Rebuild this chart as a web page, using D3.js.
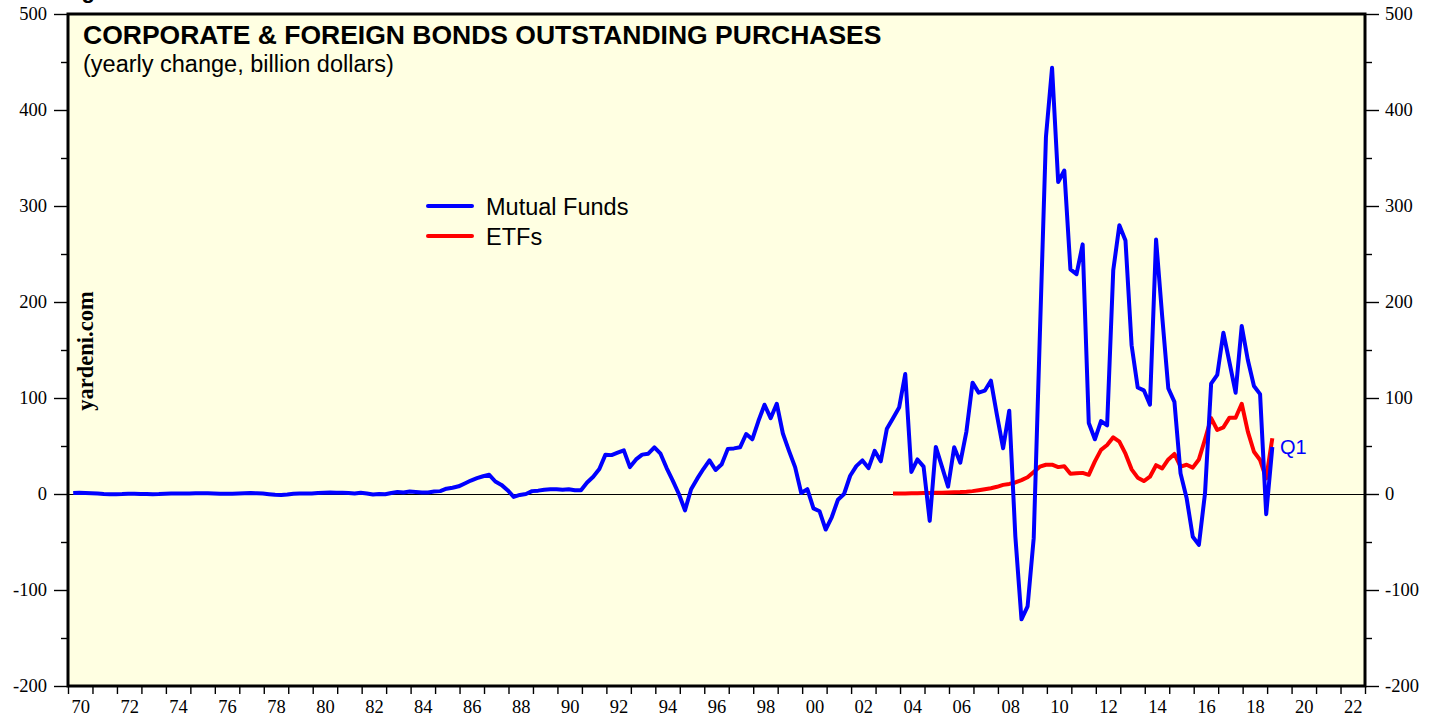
<!DOCTYPE html>
<html>
<head>
<meta charset="utf-8">
<script src="https://cdn.jsdelivr.net/npm/d3@7"></script>
<style>
  body { margin: 0; background: #fff; }
  svg { display: block; }
</style>
</head>
<body>
<div id="root"></div>
<script>
// quarterly, 1970Q1 .. 2019Q1
const mutualFunds = [
  1.0, 1.2, 1.0, 0.8,   0.5, 0.0, -0.3, -0.2,   -0.1, 0.2, 0.3, 0.1,   0.0, -0.2, -0.1, 0.2,
  0.4, 0.5, 0.5, 0.6,   0.8, 0.9, 0.7, 0.6,     0.3, 0.2, 0.3, 0.5,    0.8, 1.0, 0.8, 0.4,
  -0.2, -0.8, -1.0, -0.5, 0.3, 0.5, 0.5, 0.6,   1.0, 1.2, 1.5, 1.3,    1.4, 1.0, 0.5, 1.2,
  0.5, -0.5, 0.0, -0.3, 1.0, 2.0, 1.5, 2.5,     2.0, 1.5, 1.5, 2.5,    3, 5.5, 6.5, 8,
  11, 14, 16.5, 18.5,   20, 13, 9.5, 4,         -3, -1, 0, 3,          3.5, 4.5, 5, 5,
  4.5, 5, 4, 4,         12, 18, 26, 41,         40.5, 43, 45.5, 28,    36, 41, 42, 48.5,
  42, 27, 14, 0,        -17, 5, 16, 26,         35, 25, 31, 47,        47.5, 48.6, 62.5, 57,
  76, 93, 79, 94,       63, 45, 28, 1,          5, -15, -18, -37,      -24, -6, 0, 19,
  29, 35, 27, 45,       34, 68, 79, 90,         125, 23, 36, 28.5,     -28, 49, 28.5, 7.6,
  48.6, 32.6, 65, 116,  105.6, 107.6, 118, 82,  47.6, 86.8, -44.5, -130.5, -117, -46, 165, 372,
  444, 325, 337, 234,   229, 260, 74, 57,       76, 71.5, 233, 280,    264, 155, 111, 108,
  93, 265, 185, 110,    96, 21.5, -4.5, -44.5,  -53, 0.7, 115, 124,    168, 137, 105.5, 175,
  139.6, 112.5, 104, -21,
  49
];
const mutualFundsStart = [1970, 1];

// quarterly, 2003Q3 .. 2019Q1
const etfs = [
  0.5, 0.5,
  0.6, 0.7, 0.8, 1.0,   1.0, 1.2, 1.4, 1.6,   1.8, 2.0, 2.4, 3.0,   4.0, 5.0, 6.0, 7.5,
  9.5, 10.5, 12, 14.5,  17.5, 23, 28.5, 30.5, 30.5, 28, 29, 21,   21.5, 22, 20, 34,
  46, 51, 59, 54.5,     42, 25.7, 17, 13.5,   18, 30, 26.7, 36,     41.7, 28.5, 30.5, 27.5,
  36, 57, 79, 66.7,     69.4, 79.5, 79.5, 94, 65, 44, 35.4, 16.3,
  58
];
const etfsStart = [2003, 3];

const xTickLabels = ['70','72','74','76','78','80','82','84','86','88','90','92','94','96',
  '98','00','02','04','06','08','10','12','14','16','18','20','22'];
const yTicks = [-200, -100, 0, 100, 200, 300, 400, 500];
const yMinorTicks = [-150, -50, 50, 150, 250, 350, 450];

const width = 1439;
const height = 719;
const plot = { left: 68, right: 1365, top: 14, bottom: 686 };

const svg = d3.select('#root')
  .append('svg')
  .attr('width', width)
  .attr('height', height);

const x = d3.scaleLinear().domain([1970, 2023]).range([plot.left, plot.right]);
const y = d3.scaleLinear().domain([-200, 500]).range([plot.bottom, plot.top]);

function toSeries(values, start) {
  return values.map((v, i) => {
    const q = start[1] - 1 + i;
    const t = start[0] + Math.floor(q / 4) + ((q % 4) + 0.85) / 4;
    return { t: t, v: v };
  });
}

// cut-off figure caption at the very top
svg.append('text')
  .attr('x', 62)
  .attr('y', -2)
  .attr('font-family', 'Liberation Sans, Arial, sans-serif')
  .attr('font-weight', 'bold')
  .attr('font-size', 22)
  .text('Figure');

svg.append('rect')
  .attr('x', plot.left)
  .attr('y', plot.top)
  .attr('width', plot.right - plot.left)
  .attr('height', plot.bottom - plot.top)
  .attr('fill', '#ffffe2');

// left axis
svg.append('g')
  .attr('transform', `translate(${plot.left},0)`)
  .call(d3.axisLeft(y).tickValues(yTicks).tickSize(14).tickPadding(7).tickFormat(d => String(d)));
svg.append('g')
  .attr('transform', `translate(${plot.left},0)`)
  .call(d3.axisLeft(y).tickValues(yMinorTicks).tickSize(7).tickFormat(''));

// right axis
svg.append('g')
  .attr('transform', `translate(${plot.right},0)`)
  .call(d3.axisRight(y).tickValues(yTicks).tickSize(14).tickPadding(6).tickFormat(d => String(d)));
svg.append('g')
  .attr('transform', `translate(${plot.right},0)`)
  .call(d3.axisRight(y).tickValues(yMinorTicks).tickSize(7).tickFormat(''));

// bottom axis: a tick every year, labels every 2nd year centred in the year
const yearTicks = d3.range(1970, 2024);
svg.append('g')
  .attr('transform', `translate(0,${plot.bottom})`)
  .call(d3.axisBottom(x).tickValues(yearTicks).tickSize(8).tickFormat(''));
svg.append('g')
  .attr('transform', `translate(0,${plot.bottom})`)
  .call(d3.axisBottom(x).tickValues(xTickLabels.map((l, i) => 1970.5 + i * 2)).tickSize(0).tickPadding(14)
    .tickFormat((d, i) => xTickLabels[i]));

svg.selectAll('.domain').remove();
svg.selectAll('.tick line').attr('stroke', '#000').attr('stroke-width', 1.4);
svg.selectAll('.tick text')
  .attr('font-family', 'Liberation Serif, Times New Roman, serif')
  .attr('font-size', 18.5)
  .attr('fill', '#000');

// zero line
svg.append('line')
  .attr('x1', plot.left).attr('x2', plot.right)
  .attr('y1', y(0) + 0.5).attr('y2', y(0) + 0.5)
  .attr('stroke', '#000')
  .attr('stroke-width', 1.2);

const line = d3.line().x(d => x(d.t)).y(d => y(d.v));

svg.append('path')
  .datum(toSeries(etfs, etfsStart))
  .attr('d', line)
  .attr('fill', 'none')
  .attr('stroke', '#ff0000')
  .attr('stroke-width', 4)
  .attr('stroke-linejoin', 'round');

svg.append('path')
  .datum(toSeries(mutualFunds, mutualFundsStart))
  .attr('d', line)
  .attr('fill', 'none')
  .attr('stroke', '#0000ff')
  .attr('stroke-width', 4)
  .attr('stroke-linejoin', 'round');

// frame
svg.append('rect')
  .attr('x', plot.left)
  .attr('y', plot.top)
  .attr('width', plot.right - plot.left)
  .attr('height', plot.bottom - plot.top)
  .attr('fill', 'none')
  .attr('stroke', '#000')
  .attr('stroke-width', 3);

// titles
svg.append('text')
  .attr('x', 83)
  .attr('y', 44)
  .attr('font-family', 'Liberation Sans, Arial, sans-serif')
  .attr('font-weight', 'bold')
  .attr('font-size', 26.5)
  .text('CORPORATE & FOREIGN BONDS OUTSTANDING PURCHASES');

svg.append('text')
  .attr('x', 83)
  .attr('y', 72)
  .attr('font-family', 'Liberation Sans, Arial, sans-serif')
  .attr('font-size', 23.5)
  .text('(yearly change, billion dollars)');

svg.append('text')
  .attr('transform', 'translate(93,351) rotate(-90)')
  .attr('text-anchor', 'middle')
  .attr('font-family', 'Liberation Serif, Times New Roman, serif')
  .attr('font-weight', 'bold')
  .attr('font-size', 22.5)
  .text('yardeni.com');

// legend
const legend = [['Mutual Funds', '#0000ff'], ['ETFs', '#ff0000']];
legend.forEach((d, i) => {
  svg.append('line')
    .attr('x1', 428).attr('x2', 472)
    .attr('y1', 206 + i * 30).attr('y2', 206 + i * 30)
    .attr('stroke', d[1])
    .attr('stroke-width', 4)
    .attr('stroke-linecap', 'round');
  svg.append('text')
    .attr('x', 486)
    .attr('y', 215 + i * 30)
    .attr('font-family', 'Liberation Sans, Arial, sans-serif')
    .attr('font-size', 23.5)
    .text(d[0]);
});

svg.append('text')
  .attr('x', 1280)
  .attr('y', 454)
  .attr('font-family', 'Liberation Sans, Arial, sans-serif')
  .attr('font-size', 20)
  .attr('fill', '#0000ff')
  .text('Q1');
</script>
</body>
</html>
